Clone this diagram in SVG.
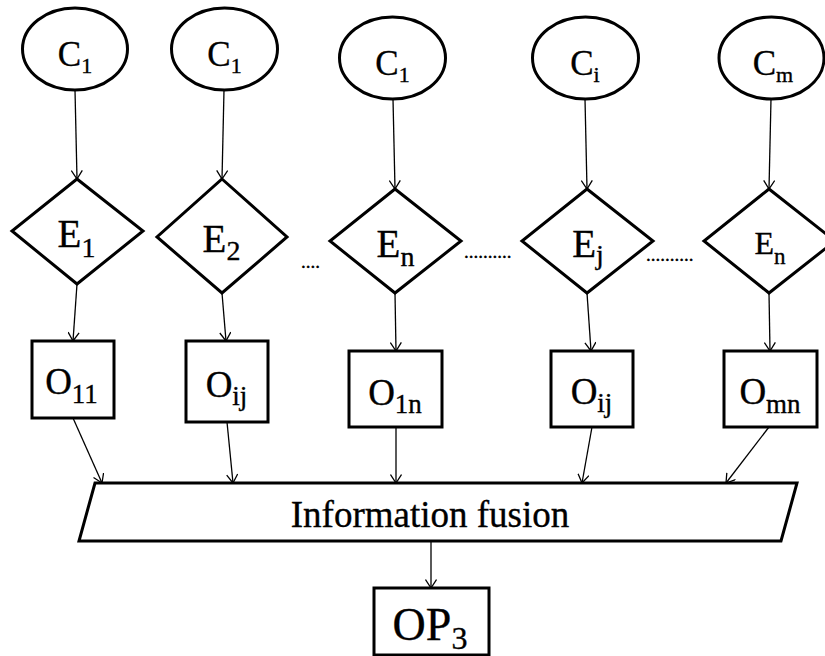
<svg xmlns="http://www.w3.org/2000/svg" width="825" height="656" viewBox="0 0 825 656">
  <style>
    .shape { fill: #ffffff; stroke: #000000; stroke-width: 3; stroke-linejoin: miter; }
    .edge { fill: none; stroke: #000000; stroke-width: 1.3; marker-end: url(#arrow); }
    text { font-family: "Liberation Serif", "Times New Roman", serif; fill: #000000; stroke: #000000; stroke-width: 0.35; text-anchor: middle; }
    .c { font-size: 35px; }
    .c .s { font-size: 22px; }
    .e { font-size: 39px; }
    .e .s { font-size: 28px; }
    .o { font-size: 37px; }
    .o .s { font-size: 27px; }
    .dots { font-size: 19px; text-anchor: start; }
  </style>
  <defs>
    <marker id="arrow" viewBox="0 0 10 12" refX="9.5" refY="6" markerWidth="10" markerHeight="12" markerUnits="userSpaceOnUse" orient="auto">
      <path d="M1,0.5 L9.5,6 L1,11.5" fill="none" stroke="#000000" stroke-width="1.3"/>
    </marker>
  </defs>
  <rect width="825" height="656" fill="#ffffff"/>

  <!-- connectors -->
  <g id="connectors">
    <line class="edge" x1="75" y1="90" x2="77" y2="179"/>
    <line class="edge" x1="224" y1="90" x2="222" y2="179"/>
    <line class="edge" x1="393" y1="99" x2="395" y2="189"/>
    <line class="edge" x1="585" y1="99" x2="587" y2="189"/>
    <line class="edge" x1="771" y1="99" x2="769" y2="189"/>

    <line class="edge" x1="77" y1="284" x2="73" y2="341"/>
    <line class="edge" x1="222" y1="293" x2="226" y2="341"/>
    <line class="edge" x1="395" y1="293" x2="396" y2="351"/>
    <line class="edge" x1="587" y1="293" x2="591" y2="351"/>
    <line class="edge" x1="769" y1="293" x2="770" y2="351"/>

    <line class="edge" x1="73" y1="418" x2="102" y2="483"/>
    <line class="edge" x1="227" y1="422" x2="233" y2="483"/>
    <line class="edge" x1="396" y1="427" x2="396" y2="483"/>
    <line class="edge" x1="592" y1="427" x2="582" y2="483"/>
    <line class="edge" x1="769" y1="427" x2="726" y2="483"/>

    <line class="edge" x1="431" y1="541" x2="431" y2="588"/>
  </g>

  <!-- criteria -->
  <g id="c1a">
    <ellipse class="shape" cx="75" cy="49" rx="52.5" ry="41"/>
    <text class="c" x="75" y="66">C<tspan class="s" dy="7">1</tspan></text>
  </g>
  <g id="c1b">
    <ellipse class="shape" cx="224.5" cy="49" rx="53" ry="41"/>
    <text class="c" x="224.5" y="66">C<tspan class="s" dy="7">1</tspan></text>
  </g>
  <g id="c1c">
    <ellipse class="shape" cx="392.5" cy="58" rx="53" ry="41"/>
    <text class="c" x="392.5" y="75">C<tspan class="s" dy="7">1</tspan></text>
  </g>
  <g id="ci">
    <ellipse class="shape" cx="585.5" cy="58" rx="53" ry="41"/>
    <text class="c" x="585" y="75">C<tspan class="s" dy="7">i</tspan></text>
  </g>
  <g id="cm">
    <ellipse class="shape" cx="771.5" cy="58" rx="52.5" ry="41"/>
    <text class="c" x="773" y="75">C<tspan class="s" dy="7">m</tspan></text>
  </g>

  <!-- evaluators -->
  <g id="e1">
    <polygon class="shape" points="77,179 143,231 77,284 12,231"/>
    <text class="e" x="76.5" y="247">E<tspan class="s" dy="10">1</tspan></text>
  </g>
  <g id="e2">
    <polygon class="shape" points="222,179 287,237 222,293 157,237"/>
    <text class="e" x="221.5" y="252">E<tspan class="s" dy="8">2</tspan></text>
  </g>
  <g id="en1">
    <polygon class="shape" points="395,189 461,241 395,293 330,241"/>
    <text class="e" x="395.5" y="257">E<tspan class="s" dy="9">n</tspan></text>
  </g>
  <g id="ej">
    <polygon class="shape" points="587,189 653,241 587,293 522,241"/>
    <text class="e" x="588" y="257">E<tspan class="s" dy="7">j</tspan></text>
  </g>
  <g id="en2">
    <polygon class="shape" points="769,189 835,241 769,293 704,241"/>
    <text class="e" x="770" y="254" style="font-size:32px">E<tspan dy="10" style="font-size:23px">n</tspan></text>
  </g>

  <!-- ellipsis marks between evaluators -->
  <text class="dots" x="301" y="268">....</text>
  <text class="dots" x="464" y="258">..........</text>
  <text class="dots" x="646" y="261">..........</text>

  <!-- outputs -->
  <g id="o11">
    <rect class="shape" x="32" y="341" width="82" height="77"/>
    <text class="o" x="71.5" y="394">O<tspan class="s" dy="9">11</tspan></text>
  </g>
  <g id="oij1">
    <rect class="shape" x="186" y="341" width="82" height="81"/>
    <text class="o" x="226.5" y="397">O<tspan class="s" dy="8">ij</tspan></text>
  </g>
  <g id="o1n">
    <rect class="shape" x="349" y="351" width="93" height="76"/>
    <text class="o" x="395" y="405">O<tspan class="s" dy="8">1n</tspan></text>
  </g>
  <g id="oij2">
    <rect class="shape" x="551" y="351" width="82" height="76"/>
    <text class="o" x="591.5" y="404">O<tspan class="s" dy="8">ij</tspan></text>
  </g>
  <g id="omn">
    <rect class="shape" x="724" y="351" width="93" height="76"/>
    <text class="o" x="770" y="404">O<tspan class="s" dy="9">mn</tspan></text>
  </g>

  <!-- fusion stage -->
  <g id="fusion">
    <polygon class="shape" points="95,483 797,483 781,541 79,541"/>
    <text x="430" y="527" style="font-size:37px">Information fusion</text>
  </g>

  <!-- final output -->
  <g id="op3">
    <rect class="shape" x="374" y="588" width="115" height="67"/>
    <text x="430" y="640" style="font-size:46px">OP<tspan dy="9" style="font-size:32px">3</tspan></text>
  </g>
</svg>
